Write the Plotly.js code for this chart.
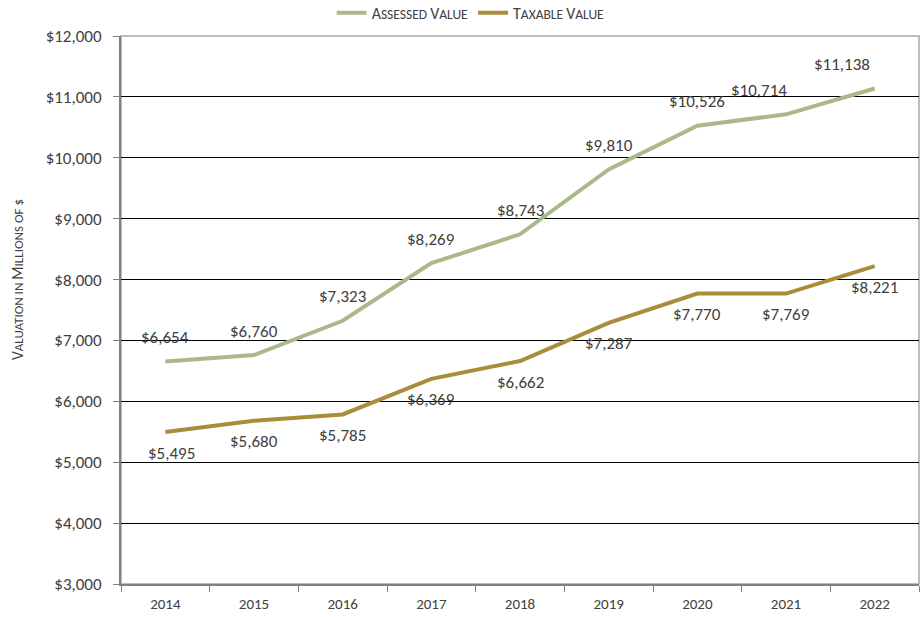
<!DOCTYPE html>
<html><head><meta charset="utf-8">
<script src="https://cdn.plot.ly/plotly-3.0.1.min.js"></script>
<style>html,body{margin:0;padding:0;background:#fff}#c{width:921px;height:617px}</style>
</head><body><div id="c"></div>
<script>
const years = ['2014','2015','2016','2017','2018','2019','2020','2021','2022'];
const assessed = [6654, 6760, 7323, 8269, 8743, 9810, 10526, 10714, 11138];
const taxable = [5495, 5680, 5785, 6369, 6662, 7287, 7770, 7769, 8221];
const yTicks = [3000,4000,5000,6000,7000,8000,9000,10000,11000,12000];
const seriesNames = ['Assessed Value', 'Taxable Value'];
const yTitle = 'Valuation in Millions of $';

const FONT = 'Carlito, Calibri, "Liberation Sans Narrow", "Open Sans", sans-serif';
const fmt = v => '$' + v.toLocaleString('en-US');
// emulate Excel small caps: uppercase letters full size, lowercase as smaller capitals
function smallCaps(s, small) {
  let out = '', buf = '';
  const flush = () => { if (buf) { out += '<span style="font-size:' + small + 'px">' + buf.toUpperCase() + '</span>'; buf = ''; } };
  for (const ch of s) {
    if (ch >= 'A' && ch <= 'Z') { flush(); out += ch; }
    else buf += ch;
  }
  flush();
  return out;
}

// label placement tweaks (pixel nudges by point index), as in the original chart
const assessedNudge = {7: -27, 8: -33};
const taxableNudge = {0: 6};

const traces = [
  {x: years, y: assessed, name: smallCaps(seriesNames[0], 13.5), mode: 'lines',
   line: {color: '#a9b98a', width: 4}},
  {x: years, y: taxable, name: smallCaps(seriesNames[1], 13.5), mode: 'lines',
   line: {color: '#a98d3b', width: 4}}
];

const ann = [];
years.forEach((yr, i) => {
  ann.push({x: i, y: assessed[i], text: fmt(assessed[i]), showarrow: false,
    yshift: 24, xshift: assessedNudge[i] || 0,
    font: {family: FONT, size: 17, color: '#404040'}});
  ann.push({x: i, y: taxable[i], text: fmt(taxable[i]), showarrow: false,
    yshift: -21, xshift: taxableNudge[i] || 0,
    font: {family: FONT, size: 17, color: '#404040'}});
});
// y-axis title (placed like the original, slightly above plot centre)
ann.push({xref: 'paper', yref: 'paper', x: (17 - 121) / 798, y: (584 - 280) / 548,
  xanchor: 'center', yanchor: 'middle', textangle: -90, showarrow: false,
  text: smallCaps(yTitle, 13), font: {family: FONT, size: 15.5, color: '#404040'}});

const layout = {
  width: 921, height: 617,
  margin: {l: 121, r: 2, t: 36, b: 33},
  paper_bgcolor: '#fff', plot_bgcolor: '#fff',
  font: {family: FONT, size: 14, color: '#404040'},
  showlegend: true,
  legend: {orientation: 'h', xref: 'container', x: 0.511, xanchor: 'center',
    yref: 'container', y: 0.979, yanchor: 'middle', bgcolor: 'rgba(0,0,0,0)',
    font: {family: FONT, size: 16, color: '#404040'},
    itemwidth: 30, traceorder: 'normal'},
  xaxis: {type: 'category', tickson: 'boundaries', ticks: 'outside', ticklen: 6,
    tickcolor: '#808080', showline: true, linecolor: '#808080', linewidth: 2,
    showgrid: false, ticklabelstandoff: 5,
    tickfont: {family: FONT, size: 15, color: '#404040'},
    range: [-0.5, 8.5], fixedrange: true},
  yaxis: {range: [3000, 12000], tickvals: yTicks, ticktext: yTicks.map(fmt),
    ticks: 'outside', ticklen: 6, tickcolor: '#808080', ticklabelstandoff: 8,
    showline: true, linecolor: '#808080', linewidth: 2,
    showgrid: true, gridcolor: '#000', gridwidth: 1, zeroline: false,
    tickfont: {family: FONT, size: 17, color: '#404040'}},
  shapes: [{type: 'rect', xref: 'paper', yref: 'paper', x0: 0, x1: 1, y0: 0, y1: 1,
    line: {color: '#a6a6a6', width: 1.5}, layer: 'below'}],
  annotations: ann
};

Plotly.newPlot('c', traces, layout, {displayModeBar: false, staticPlot: true});
</script></body></html>
